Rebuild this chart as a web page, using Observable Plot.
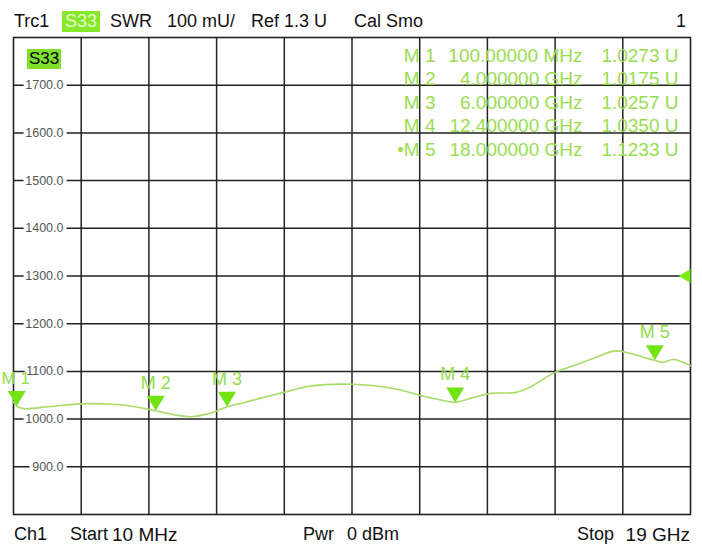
<!DOCTYPE html>
<html>
<head>
<meta charset="utf-8">
<script src="https://cdn.jsdelivr.net/npm/d3@7"></script>
<script src="https://cdn.jsdelivr.net/npm/@observablehq/plot@0.6"></script>
<style>
  html, body { margin: 0; padding: 0; background: #fff; }
  #wrap { position: relative; width: 702px; height: 545px; overflow: hidden; font-family: "Liberation Sans", Arial, sans-serif; }
  #wrap svg { position: absolute; left: 0; top: 0; }
  .t { position: absolute; font-size: 18px; line-height: 21px; color: #111; white-space: pre; }
  .hl { background: #86e828; color: #e4ffd0; padding: 0 3px; }
  .box { background: #7fe02c; color: #000; font-size: 17px; line-height: 20px; padding: 0 2px; }
</style>
</head>
<body>
<div id="wrap"></div>
<script>
// ---- data (frequency in GHz, SWR in mU) ----
const freqGHz = [0.01, 0.1, 0.3, 1.0, 1.9, 2.8, 3.5, 4.0, 4.6, 5.0, 5.5, 6.0, 6.5, 7.0, 7.6, 8.3, 9.0, 9.5, 10.0, 10.8, 11.4, 12.0, 12.4, 12.9, 13.4, 14.1, 14.5, 15.2, 15.8, 16.3, 16.9, 17.3, 17.7, 18.0, 18.2, 18.5, 18.7, 19.0];
const swr_mU  = [1036, 1027.3, 1022, 1026, 1032, 1031, 1025, 1017.5, 1008, 1005, 1012, 1025.7, 1035, 1045, 1056, 1069, 1073, 1073, 1071, 1062, 1050, 1040, 1035.0, 1045, 1054, 1056, 1067, 1098, 1114, 1128, 1143, 1138, 1129, 1123.3, 1119, 1125, 1122, 1112];

const markerNames = ["M 1", "M 2", "M 3", "M 4", "M 5"];
const markerTableNames = ["M 1", "M 2", "M 3", "M 4", "\u2022M 5"];
const markerFreqGHz = [0.1, 4, 6, 12.4, 18];
const markerSWR_mU = [1027.3, 1017.5, 1025.7, 1035.0, 1123.3];
const markerFreqLabels = ["100.00000 MHz", "4.000000 GHz", "6.000000 GHz", "12.400000 GHz", "18.000000 GHz"];
const markerValueLabels = ["1.0273", "1.0175", "1.0257", "1.0350", "1.1233"];

const yTicks = [900, 1000, 1100, 1200, 1300, 1400, 1500, 1600, 1700];
const yTickLabels = ["900.0", "1000.0", "1100.0", "1200.0", "1300.0", "1400.0", "1500.0", "1600.0", "1700.0"];
const refLevel_mU = 1300;
const startGHz = 0.01, stopGHz = 19;

const headerTexts = ["Trc1", "S33", "SWR", "100 mU/", "Ref 1.3 U", "Cal Smo", "1"];
const footerTexts = ["Ch1", "Start", "10 MHz", "Pwr", "0 dBm", "Stop", "19 GHz"];

// ---- build ----
const trace = freqGHz.map((f, i) => ({f, v: swr_mU[i]}));
const markers = markerNames.map((name, i) => ({name, f: markerFreqGHz[i], v: markerSWR_mU[i]}));
const yLabelRows = yTicks.map((v, i) => ({v, label: yTickLabels[i]}));
const xGrid = d3.range(1, 10).map(i => startGHz + i * (stopGHz - startGHz) / 10);

const downTriangle = { draw(ctx) { ctx.moveTo(0, 0); ctx.lineTo(-9, -15); ctx.lineTo(9, -15); ctx.closePath(); } };
const leftTriangle = { draw(ctx) { ctx.moveTo(-12, 0); ctx.lineTo(0, -7); ctx.lineTo(0, 7); ctx.closePath(); } };

const green = "#99dd50";
const tableOpts = {frameAnchor: "top-left", dy: 8, textAnchor: "end", lineAnchor: "top", lineHeight: 1.23, fontSize: 19, fill: green};
const markerLabelOpts = {x: "f", y: "v", text: "name", dy: -22, lineAnchor: "bottom", fontSize: 18, fill: "#92dc48"};

const chart = Plot.plot({
  width: 702,
  height: 545,
  marginTop: 37,
  marginBottom: 31,
  marginLeft: 13,
  marginRight: 12,
  x: {domain: [startGHz, stopGHz], axis: null},
  y: {domain: [800, 1800], axis: null},
  style: {background: "transparent", fontFamily: "Liberation Sans, Arial, sans-serif", overflow: "visible"},
  marks: [
    Plot.ruleX(xGrid, {stroke: "#222", strokeWidth: 1.5, strokeOpacity: 1}),
    Plot.ruleY(yTicks, {stroke: "#222", strokeWidth: 1.5, strokeOpacity: 1}),
    Plot.frame({stroke: "#222", strokeWidth: 1.6}),
    Plot.text(yLabelRows, {y: "v", text: "label", frameAnchor: "left", dx: 50, textAnchor: "end",
      fill: "#555", fontSize: 12.5, stroke: "white", strokeWidth: 7}),
    Plot.text([markerTableNames.join("\n")], {...tableOpts, dx: 422}),
    Plot.text([markerFreqLabels.join("\n")], {...tableOpts, dx: 569}),
    Plot.text([markerValueLabels.join("\n")], {...tableOpts, dx: 646}),
    Plot.text([markerValueLabels.map(() => "U").join("\n")], {...tableOpts, dx: 665}),
    Plot.line(trace, {x: "f", y: "v", stroke: "#a8dc6a", strokeWidth: 1.6, curve: "catmull-rom"}),
    Plot.dot(markers, {x: "f", y: "v", symbol: downTriangle, r: 5, fill: "#72e414", stroke: "none"}),
    Plot.text(markers.slice(0, 1), {...markerLabelOpts, dx: -1, fontSize: 17}),
    Plot.text(markers.slice(1), markerLabelOpts),
    Plot.dot([{f: stopGHz, v: refLevel_mU}], {x: "f", y: "v", symbol: leftTriangle, r: 5, fill: "#7cec1c", stroke: "none"})
  ]
});

const wrap = document.getElementById("wrap");
wrap.appendChild(chart);

function addText(txt, left, top, cls, extra) {
  const s = document.createElement("span");
  s.className = "t " + (cls || "");
  s.textContent = txt;
  s.style.left = left + "px";
  s.style.top = top + "px";
  if (extra) Object.assign(s.style, extra);
  wrap.appendChild(s);
  return s;
}
// header
addText(headerTexts[0], 14, 11);
addText(headerTexts[1], 62, 11, "hl");
addText(headerTexts[2], 110, 11);
addText(headerTexts[3], 167, 11);
addText(headerTexts[4], 251, 11);
addText(headerTexts[5], 354, 11);
addText(headerTexts[6], 0, 11, "", {left: "auto", right: "16px"});
// S33 box in plot
addText("S33", 27, 49, "box");
// footer
addText(footerTexts[0], 14, 524);
addText(footerTexts[1], 70, 524);
addText(footerTexts[2], 112, 524, "", {fontSize: "19px"});
addText(footerTexts[3], 303, 524);
addText(footerTexts[4], 347, 524);
addText(footerTexts[5], 577, 524);
addText(footerTexts[6], 0, 524, "", {left: "auto", right: "12px", fontSize: "19px"});
</script>
</body>
</html>
